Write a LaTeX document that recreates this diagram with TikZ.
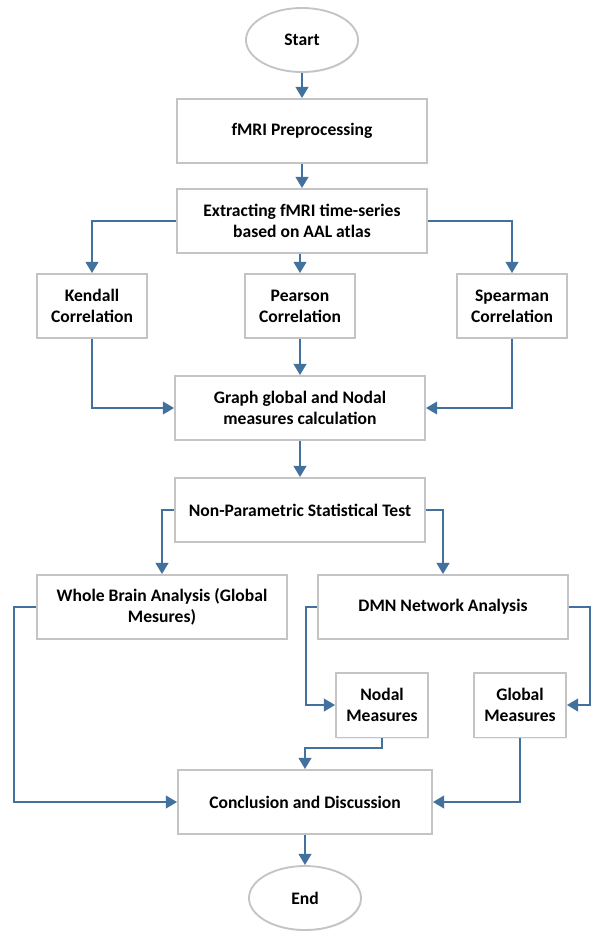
\documentclass[tikz,border=0pt]{standalone}
\usepackage{fontspec}
\setmainfont{Carlito}
\usetikzlibrary{arrows.meta,shapes.geometric,shadows}
\definecolor{flowblue}{RGB}{65,113,156}
\definecolor{boxgray}{RGB}{196,196,196}
\tikzset{
	box/.style={draw=boxgray, line width=1.3pt, fill=white, align=center, font=\bfseries\fontsize{12.5}{15}\selectfont,
		drop shadow={shadow xshift=0.6pt, shadow yshift=-0.8pt, opacity=0.18, fill=flowblue!60}},
	bigbox/.style={box, minimum width=6.25cm, minimum height=1.6cm, inner sep=1pt},
	smallbox/.style={box, minimum width=2.75cm, minimum height=1.6cm, inner sep=1pt},
	tinybox/.style={box, minimum width=2.3cm, minimum height=1.62cm, inner sep=1pt},
	term/.style={box, ellipse, minimum width=2.8cm, minimum height=1.6cm, inner sep=0pt},
	flow/.style={draw=flowblue, line width=1.6pt, -{Triangle[length=8pt,width=9pt]}}
}
\begin{document}
\begin{tikzpicture}[x=0.025cm, y=-0.025cm]
	%%%%% START %%%%%
	\useasboundingbox (0,0) rectangle (592,932);
	
	\node[term] (start) at (302,40) {Start};
	\node[bigbox] (prep) at (302,131) {fMRI Preprocessing};
	\node[bigbox] (extract) at (302,221) {Extracting fMRI time-series\\based on AAL atlas};
	
	\node[smallbox] (kendall) at (92,306) {Kendall\\Correlation};
	\node[smallbox] (pearson) at (300,306) {Pearson\\Correlation};
	\node[smallbox] (spearman) at (512,306) {Spearman\\Correlation};
	
	\node[bigbox] (graph) at (300,408) {Graph global and Nodal\\measures calculation};
	\node[bigbox] (test) at (300,510) {Non-Parametric Statistical Test};
	
	\node[bigbox] (whole) at (162,607) {Whole Brain Analysis (Global\\Mesures)};
	\node[bigbox] (dmn) at (443,607) {DMN Network Analysis};
	
	\node[tinybox] (nodal) at (382,705) {Nodal\\Measures};
	\node[tinybox] (global) at (520,705) {Global\\Measures};
	
	\node[bigbox, minimum width=6.35cm] (concl) at (305,802) {Conclusion and Discussion};
	\node[term] (end) at (305,898) {End};
	
	% bends of the outer lines
	\coordinate (wbend) at (14,0);
	\coordinate (dlbend) at (306,0);
	\coordinate (drbend) at (590,0);
	
	\draw[flow] (start) -- (prep);
	\draw[flow] (prep) -- (extract);
	\draw[flow] (extract.west) -| (kendall.north);
	\draw[flow] (extract.south -| pearson) -- (pearson.north);
	\draw[flow] (extract.east) -| (spearman.north);
	
	\draw[flow] (kendall.south) |- (graph.west);
	\draw[flow] (pearson.south) -- (pearson.south |- graph.north);
	\draw[flow] (spearman.south) |- (graph.east);
	\draw[flow] (graph) -- (test);
	
	\draw[flow] (test.west) -| (whole.north);
	\draw[flow] (test.east) -| (dmn.north);
	
	\draw[flow] (whole.west) -- (whole.west -| wbend) |- (concl.west);
	\draw[flow] (dmn.west) -- (dmn.west -| dlbend) |- (nodal.west);
	\draw[flow] (dmn.east) -- (dmn.east -| drbend) |- (global.east);
	
	\draw[flow] (nodal.south) -- ++(0,10) -| (concl.north);
	\draw[flow] (global.south) |- (concl.east);
	\draw[flow] (concl) -- (end);
	%%%%% END %%%%%
\end{tikzpicture}
\end{document}
